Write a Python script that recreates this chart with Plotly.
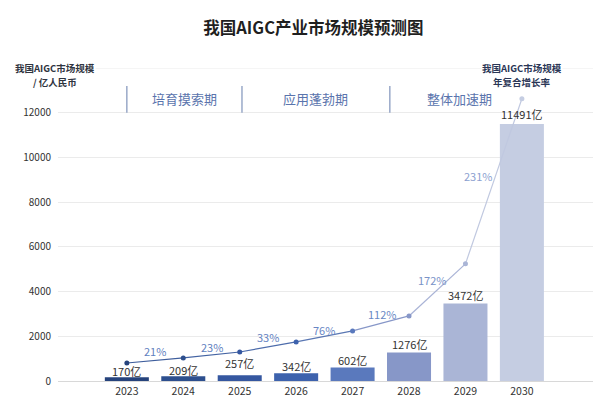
import plotly.graph_objects as go

years = ["2023", "2024", "2025", "2026", "2027", "2028", "2029", "2030"]
market_size = [170, 209, 257, 342, 602, 1276, 3472, 11491]
size_labels = ["170亿", "209亿", "257亿", "342亿", "602亿", "1276亿", "3472亿", "11491亿"]
# visual trend line (in bar-axis units)
trend_line = [806, 1030, 1298, 1746, 2239, 2910, 5239, 12627]
growth_labels = ["21%", "23%", "33%", "76%", "112%", "172%", "231%"]
phases = ["培育摸索期", "应用蓬勃期", "整体加速期"]
y_ticks = [0, 2000, 4000, 6000, 8000, 10000, 12000]
y_tick_text = ["0", "2000", "4000", "6000", "8000", "10000", "12000"]
left_title = ["我国AIGC市场规模", "/ 亿人民币"]
right_title = ["我国AIGC市场规模", "年复合增长率"]

bar_colors = ["#26437c", "#2d4f8e", "#3557a0", "#3d62ad", "#5a79bd",
              "#8797c8", "#aab5d6", "#c5cde2"]
seg_colors = ["#3d5d9c", "#4363a2", "#4d6cab", "#5a77b3", "#8797c8",
              "#a9b3d6", "#c0c8e0"]

FONT = "Noto Sans CJK SC, Noto Sans, sans-serif"

fig = go.Figure()

fig.add_trace(go.Bar(
    x=years, y=market_size, marker=dict(color=bar_colors, line=dict(width=0)),
    width=0.78, showlegend=False,
))

label_shift = [6, 6, 12, 7, 8, 8, 8, 10]
for i, (v, lab) in enumerate(zip(market_size, size_labels)):
    fig.add_annotation(x=i, y=v, xref="x", yref="y", text=lab, showarrow=False,
                       yanchor="middle", yshift=label_shift[i],
                       font=dict(size=11, color="#333333", family=FONT))

for i in range(len(years) - 1):
    fig.add_trace(go.Scatter(
        x=[years[i], years[i + 1]], y=[trend_line[i], trend_line[i + 1]],
        mode="lines", line=dict(color=seg_colors[i], width=1.2),
        showlegend=False, hoverinfo="skip",
    ))

fig.add_trace(go.Scatter(
    x=years, y=trend_line, mode="markers",
    marker=dict(color=bar_colors, size=5), showlegend=False, cliponaxis=False,
))

label_colors = ["#5f7fc0", "#5f7fc0", "#6583c2", "#6886c4", "#6a88c4", "#7a93c8", "#8c9fd0"]
xshifts = [0, 0, 0, 0, 1, -5, -16]
yshifts = [9, 8, 10, 6, 9, 10, 5]
for i, lab in enumerate(growth_labels):
    fig.add_annotation(
        x=i + 0.5, y=(trend_line[i] + trend_line[i + 1]) / 2, text=lab,
        showarrow=False, xshift=xshifts[i], yshift=yshifts[i],
        font=dict(size=11, color=label_colors[i], family=FONT),
    )

# 14000 grid line
fig.add_shape(type="line", xref="paper", x0=0, x1=1, yref="y", y0=14000, y1=14000,
              line=dict(color="#ebebeb", width=1), layer="below")

# phase dividers and labels
divs = [0, 2.04, 4.66]
for d in divs:
    fig.add_shape(type="line", xref="x", x0=d, x1=d, yref="y", y0=12000, y1=13200,
                  line=dict(color="#8a9cc0", width=1.3))
phase_x = [1.02, 3.35, 5.89]
for px, ph in zip(phase_x, phases):
    fig.add_annotation(x=px, y=12650, xref="x", yref="y", text=ph, showarrow=False,
                       font=dict(size=13, color="#5a74ad", family=FONT))

title_shifts = [0, -14]
for txt, ys in zip(left_title, title_shifts):
    fig.add_annotation(x=-0.005, y=1, xref="paper", yref="paper", xanchor="center",
                       yanchor="middle", text="<b>" + txt + "</b>", showarrow=False,
                       bgcolor="white", borderpad=0, yshift=ys,
                       font=dict(size=9.5, color="#2f3440", family=FONT))
for txt, ys in zip(right_title, title_shifts):
    fig.add_annotation(x=7, y=1, xref="x", yref="paper", xanchor="center",
                       yanchor="middle", text="<b>" + txt + "</b>", showarrow=False,
                       bgcolor="white", borderpad=0, yshift=ys,
                       font=dict(size=9.5, color="#2a3656", family=FONT))

fig.update_layout(
    width=593, height=403,
    margin=dict(l=50, r=8, t=60, b=30),
    paper_bgcolor="white", plot_bgcolor="white",
    title=dict(text="<b>我国AIGC产业市场规模预测图</b>", x=0.515, xanchor="center",
               y=0.95, yanchor="middle",
               font=dict(size=16.5, color="#1f1f1f", family=FONT)),
    font=dict(family=FONT),
    xaxis=dict(type="category", categoryorder="array", categoryarray=years,
               range=[-1.22, 8.26], showgrid=False, showline=True,
               linecolor="#d8d8d8", linewidth=1, ticks="",
               tickfont=dict(size=10.5, color="#333333")),
    yaxis=dict(range=[0, 14000], tickvals=y_ticks, ticktext=y_tick_text, showgrid=True,
               gridcolor="#ebebeb", zeroline=False, showline=False, ticks="",
               tickfont=dict(size=10, color="#333333"), ticklabelstandoff=6),
    bargap=0.22,
)

fig.write_html("out.html")
